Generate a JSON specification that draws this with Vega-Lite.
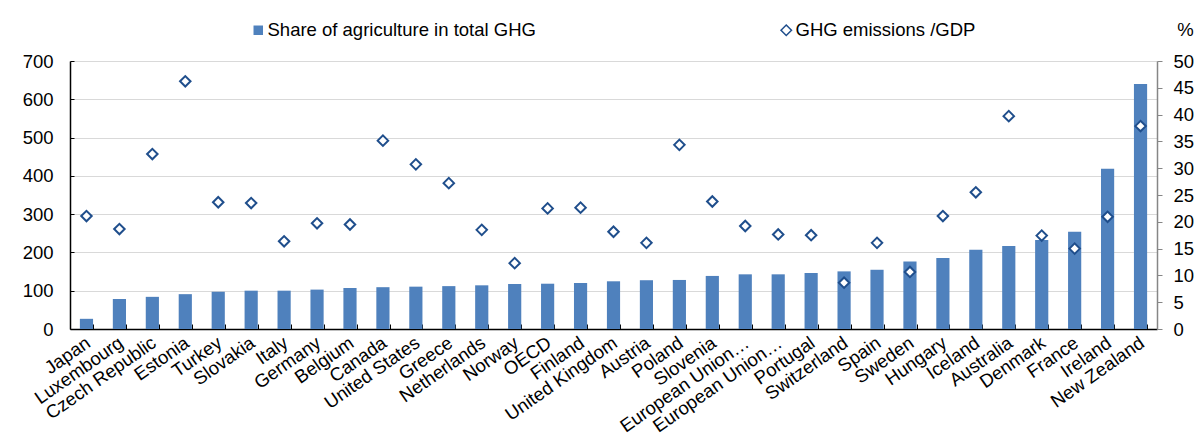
{
  "$schema": "https://vega.github.io/schema/vega-lite/v6.json",
  "width": 1087,
  "height": 268,
  "autosize": {"type": "none"},
  "padding": {"left": 70, "top": 61, "right": 43, "bottom": 111},
  "background": "white",
  "config": {
    "font": "Liberation Sans",
    "view": {"stroke": null},
    "axis": {"labelFont": "Liberation Sans", "labelColor": "#000", "labelFontSize": 18.5, "titleFont": "Liberation Sans", "titleColor": "#000"},
    "legend": {"labelFont": "Liberation Sans", "labelColor": "#000", "labelFontSize": 18.5, "padding": 0, "labelLimit": 0}
  },
  "data": {
    "values": [
      {"country": "Japan", "share": 1.9, "ghg": 295},
      {"country": "Luxembourg", "share": 5.6, "ghg": 261},
      {"country": "Czech Republic", "share": 6.0, "ghg": 457},
      {"country": "Estonia", "share": 6.5, "ghg": 647},
      {"country": "Turkey", "share": 6.95, "ghg": 331},
      {"country": "Slovakia", "share": 7.15, "ghg": 329},
      {"country": "Italy", "share": 7.15, "ghg": 229},
      {"country": "Germany", "share": 7.35, "ghg": 276},
      {"country": "Belgium", "share": 7.65, "ghg": 273},
      {"country": "Canada", "share": 7.8, "ghg": 492},
      {"country": "United States", "share": 7.9, "ghg": 430},
      {"country": "Greece", "share": 8.0, "ghg": 381},
      {"country": "Netherlands", "share": 8.15, "ghg": 259},
      {"country": "Norway", "share": 8.4, "ghg": 172},
      {"country": "OECD", "share": 8.45, "ghg": 315},
      {"country": "Finland", "share": 8.6, "ghg": 317},
      {"country": "United Kingdom", "share": 8.9, "ghg": 254},
      {"country": "Austria", "share": 9.1, "ghg": 225},
      {"country": "Poland", "share": 9.15, "ghg": 481},
      {"country": "Slovenia", "share": 9.9, "ghg": 333},
      {"country": "European Union (28 countries)", "share": 10.2, "ghg": 269},
      {"country": "European Union (15 countries)", "share": 10.2, "ghg": 247},
      {"country": "Portugal", "share": 10.45, "ghg": 245},
      {"country": "Switzerland", "share": 10.75, "ghg": 121},
      {"country": "Spain", "share": 11.05, "ghg": 225},
      {"country": "Sweden", "share": 12.6, "ghg": 149},
      {"country": "Hungary", "share": 13.25, "ghg": 295},
      {"country": "Iceland", "share": 14.8, "ghg": 357},
      {"country": "Australia", "share": 15.5, "ghg": 556},
      {"country": "Denmark", "share": 16.6, "ghg": 244},
      {"country": "France", "share": 18.15, "ghg": 210},
      {"country": "Ireland", "share": 29.9, "ghg": 293},
      {"country": "New Zealand", "share": 45.7, "ghg": 530}
    ]
  },
  "encoding": {
    "x": {
      "field": "country",
      "type": "nominal",
      "sort": null,
      "scale": {"paddingInner": 0.6, "paddingOuter": 0.3},
      "axis": {
        "title": null,
        "tickBand": "extent",
        "tickSize": -5,
        "tickColor": "#000",
        "domainColor": "#000",
        "domainWidth": 1.5,
        "labelAngle": -35,
        "labelPadding": 9,
        "labelOffset": -4,
        "labelLimit": 0,
        "labelOverlap": false,
        "grid": false,
        "labelExpr": "(datum.value == 'European Union (28 countries)' || datum.value == 'European Union (15 countries)') ? 'European Union…' : datum.value"
      }
    }
  },
  "layer": [
    {
      "mark": {"type": "bar", "color": "#4f81bd"},
      "encoding": {
        "y": {
          "field": "share",
          "type": "quantitative",
          "scale": {"domain": [0, 50]},
          "axis": {
            "orient": "right",
            "values": [0, 5, 10, 15, 20, 25, 30, 35, 40, 45, 50],
            "domainColor": "#868686",
            "domainWidth": 1.5,
            "tickColor": "#868686",
            "tickSize": 5,
            "labelPadding": 11,
            "grid": false,
            "title": "%",
            "titleAngle": 0,
            "titleX": 28,
            "titleY": -32,
            "titleFontSize": 18.5,
            "titleFontWeight": "normal",
            "titleAlign": "center",
            "titleBaseline": "middle"
          }
        },
        "color": {
          "datum": "Share of agriculture in total GHG",
          "scale": {"range": ["#4f81bd"]},
          "legend": {
            "title": null,
            "orient": "none",
            "legendX": 179,
            "legendY": -40,
            "symbolType": "square",
            "symbolSize": 90,
            "symbolStrokeWidth": 0,
            "labelOffset": 0
          }
        }
      }
    },
    {
      "mark": {"type": "point", "shape": "diamond", "filled": true, "fill": "white", "stroke": "#1f4e8c", "strokeWidth": 2, "size": 110, "opacity": 1},
      "encoding": {
        "y": {
          "field": "ghg",
          "type": "quantitative",
          "scale": {"domain": [0, 700]},
          "axis": {
            "orient": "left",
            "values": [0, 100, 200, 300, 400, 500, 600, 700],
            "domainColor": "#000",
            "domainWidth": 1.5,
            "tickColor": "#000",
            "tickSize": -4,
            "labelPadding": 21,
            "grid": true,
            "gridColor": "#d9d9d9",
            "title": null
          }
        },
        "shape": {
          "datum": "GHG emissions /GDP",
          "scale": {"range": ["diamond"]},
          "legend": {
            "title": null,
            "orient": "none",
            "legendX": 707,
            "legendY": -40,
            "symbolType": "diamond",
            "symbolSize": 110,
            "labelOffset": 0,
            "encode": {
              "symbols": {
                "update": {
                  "fill": {"value": "white"},
                  "stroke": {"value": "#1f4e8c"},
                  "strokeWidth": {"value": 2},
                  "opacity": {"value": 1}
                }
              }
            }
          }
        }
      }
    }
  ],
  "resolve": {"scale": {"y": "independent"}}
}
